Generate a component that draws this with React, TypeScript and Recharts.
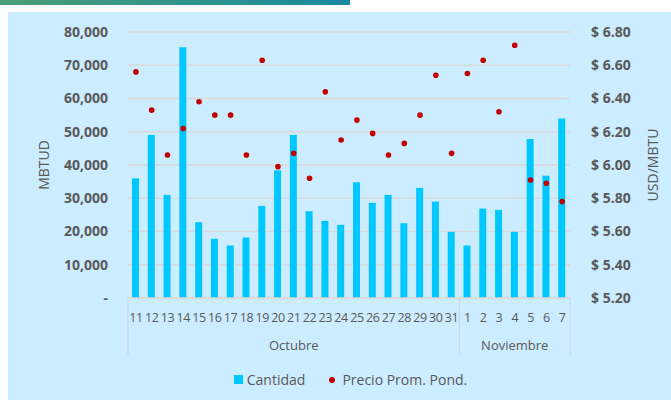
import { ComposedChart, Bar, Line, XAxis, YAxis, CartesianGrid, Legend } from "recharts";

const DAYS = [
  "11", "12", "13", "14", "15", "16", "17", "18", "19", "20", "21",
  "22", "23", "24", "25", "26", "27", "28", "29", "30", "31",
  "1", "2", "3", "4", "5", "6", "7",
];
const MONTH_NAMES = ["Octubre", "Noviembre"];
const MONTH_LENGTHS = [21, 7];
const CANTIDAD = [
  36000, 49000, 31000, 75400, 22800, 17800, 15800, 18200, 27700, 38400, 49000,
  26100, 23200, 22000, 34800, 28600, 31000, 22500, 33100, 29000, 19900,
  15800, 26900, 26500, 19900, 47800, 36800, 54000,
];
const PRECIO = [
  6.56, 6.33, 6.06, 6.22, 6.38, 6.3, 6.3, 6.06, 6.63, 5.99, 6.07,
  5.92, 6.44, 6.15, 6.27, 6.19, 6.06, 6.13, 6.3, 6.54, 6.07,
  6.55, 6.63, 6.32, 6.72, 5.91, 5.89, 5.78,
];
const LEFT_TICKS = [0, 10000, 20000, 30000, 40000, 50000, 60000, 70000, 80000];
const RIGHT_TICKS = [5.2, 5.4, 5.6, 5.8, 6.0, 6.2, 6.4, 6.6, 6.8];

const data = DAYS.map((day, i) => ({ day, cantidad: CANTIDAD[i], precio: PRECIO[i] }));

// first index of each month
const MONTH_STARTS = MONTH_LENGTHS.map((_, i) =>
  MONTH_LENGTHS.slice(0, i).reduce((s, n) => s + n, 0),
);

const TEXT = "#595959";
const FONT = "'Open Sans', sans-serif";
const SEP = "#D0D7DC";

function DayTick(props: any) {
  const { x, y, payload, index } = props;
  const half = payload && payload.offset ? payload.offset : 7.9;
  const m = MONTH_STARTS.indexOf(index);
  const last = index === DAYS.length - 1;
  return (
    <g>
      <text
        x={x}
        y={y + 19}
        textAnchor="middle"
        dominantBaseline="central"
        fill={TEXT}
        fontSize={12.5}
        fontFamily={FONT}
        letterSpacing={-0.4}
      >
        {payload.value}
      </text>
      {m >= 0 && (
        <>
          <line x1={x - half} x2={x - half} y1={y} y2={y + 57} stroke={SEP} strokeWidth={1.2} />
          <text
            x={x - half + MONTH_LENGTHS[m] * half}
            y={y + 47}
            textAnchor="middle"
            dominantBaseline="central"
            fill={TEXT}
            fontSize={13}
            fontFamily={FONT}
          >
            {MONTH_NAMES[m]}
          </text>
        </>
      )}
      {last && (
        <line x1={x + half} x2={x + half} y1={y} y2={y + 57} stroke={SEP} strokeWidth={1.2} />
      )}
    </g>
  );
}

function LegendBox() {
  return (
    <div
      style={{
        display: "flex",
        justifyContent: "center",
        alignItems: "center",
        paddingLeft: 22,
        paddingTop: 10,
        fontFamily: FONT,
        fontSize: 14,
        color: TEXT,
      }}
    >
      <span style={{ width: 9, height: 9, background: "#00C8FF", marginRight: 4 }} />
      <span>Cantidad</span>
      <span
        style={{
          width: 6,
          height: 6,
          borderRadius: "50%",
          background: "#C00000",
          marginLeft: 24,
          marginRight: 7,
        }}
      />
      <span>Precio Prom. Pond.</span>
    </div>
  );
}

export default function App() {
  return (
    <div style={{ position: "fixed", left: 0, top: 0, width: 671, height: 400, background: "#fff" }}>
      <div
        style={{
          position: "absolute",
          left: 0,
          top: 0,
          width: 350,
          height: 5,
          background: "linear-gradient(90deg, #4C9E76, #1A8A9F)",
        }}
      />
      <div
        style={{
          position: "absolute",
          left: 8,
          top: 12,
          width: 663,
          height: 388,
          background: "#CCECFF",
        }}
      >
        <ComposedChart
          width={663}
          height={388}
          data={data}
          margin={{ top: 20, right: 0, bottom: 0, left: 0 }}
          barSize={7}
        >
          <CartesianGrid yAxisId="left" vertical={false} stroke="#D9D9D9" strokeWidth={1.5} />
          <XAxis
            dataKey="day"
            interval={0}
            height={62}
            tickSize={0}
            tickMargin={0}
            tickLine={false}
            axisLine={{ stroke: "#D9D9D9", strokeWidth: 1.5 }}
            tick={<DayTick />}
          />
          <YAxis
            yAxisId="left"
            width={120}
            domain={[0, 80000]}
            ticks={LEFT_TICKS}
            interval={0}
            axisLine={false}
            tickLine={false}
            tickSize={0}
            tickMargin={20}
            tick={{ fill: TEXT, fontSize: 14, fontWeight: 700, fontFamily: FONT }}
            tickFormatter={(v: number) => (v === 0 ? "-" : v.toLocaleString("en-US"))}
            label={{
              value: "MBTUD",
              angle: -90,
              position: "insideLeft",
              offset: 36,
              style: { textAnchor: "middle", fill: TEXT, fontSize: 14, fontFamily: FONT },
            }}
          />
          <YAxis
            yAxisId="right"
            orientation="right"
            width={101}
            domain={[5.2, 6.8]}
            ticks={RIGHT_TICKS}
            interval={0}
            axisLine={false}
            tickLine={false}
            tickSize={0}
            tickMargin={21}
            tick={{ fill: TEXT, fontSize: 14, fontWeight: 700, fontFamily: FONT }}
            tickFormatter={(v: number) => `$ ${v.toFixed(2)}`}
            label={{
              value: "USD/MBTU",
              angle: -90,
              position: "insideRight",
              offset: 18,
              style: { textAnchor: "middle", fill: TEXT, fontSize: 14, fontFamily: FONT },
            }}
          />
          <Legend verticalAlign="bottom" height={40} content={<LegendBox />} />
          <Bar yAxisId="left" dataKey="cantidad" name="Cantidad" fill="#00C8FF" isAnimationActive={false} />
          <Line
            yAxisId="right"
            dataKey="precio"
            name="Precio Prom. Pond."
            stroke="none"
            dot={{ r: 2.8, fill: "#C00000", stroke: "none" }}
            activeDot={false}
            isAnimationActive={false}
          />
        </ComposedChart>
      </div>
    </div>
  );
}
